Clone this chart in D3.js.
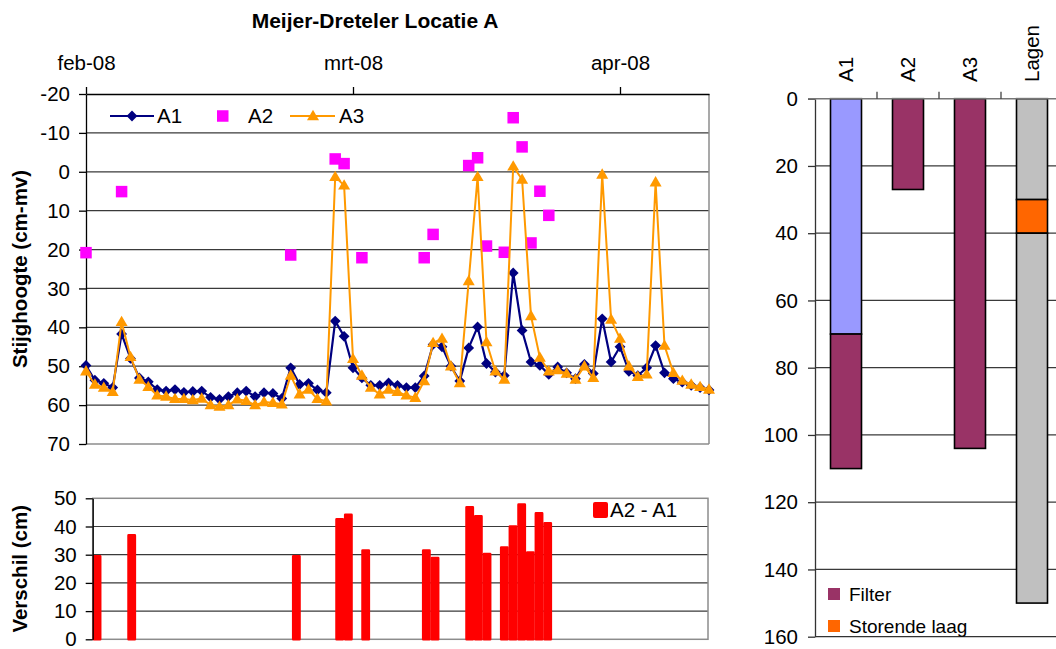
<!DOCTYPE html>
<html><head><meta charset="utf-8">
<script src="https://cdn.jsdelivr.net/npm/d3@7"></script>
<style>
body{margin:0;background:#fff}
svg text{font-family:"Liberation Sans",Arial,sans-serif;fill:#000}
</style>
</head><body>
<svg id="c" width="1056" height="649"></svg>
<script>
// ---------------- DATA ----------------
const dates = [
"2008-02-01","2008-02-02","2008-02-03","2008-02-04","2008-02-05","2008-02-06","2008-02-07","2008-02-08","2008-02-09","2008-02-10",
"2008-02-11","2008-02-12","2008-02-13","2008-02-14","2008-02-15","2008-02-16","2008-02-17","2008-02-18","2008-02-19","2008-02-20",
"2008-02-21","2008-02-22","2008-02-23","2008-02-24","2008-02-25","2008-02-26","2008-02-27","2008-02-28","2008-02-29","2008-03-01",
"2008-03-02","2008-03-03","2008-03-04","2008-03-05","2008-03-06","2008-03-07","2008-03-08","2008-03-09","2008-03-10","2008-03-11",
"2008-03-12","2008-03-13","2008-03-14","2008-03-15","2008-03-16","2008-03-17","2008-03-18","2008-03-19","2008-03-20","2008-03-21",
"2008-03-22","2008-03-23","2008-03-24","2008-03-25","2008-03-26","2008-03-27","2008-03-28","2008-03-29","2008-03-30","2008-03-31",
"2008-04-01","2008-04-02","2008-04-03","2008-04-04","2008-04-05","2008-04-06","2008-04-07","2008-04-08","2008-04-09","2008-04-10",
"2008-04-11"];
const A1 = [
49.8,53.6,54.4,55.5,41.7,48.0,53.0,54.0,56.0,56.4,
56.0,56.7,56.5,56.4,58.0,58.5,57.8,56.8,56.4,57.8,
56.8,57.0,58.3,50.4,54.7,54.4,56.1,56.8,38.4,42.3,
50.4,53.0,54.9,54.9,54.3,54.9,55.5,55.5,52.5,44.4,
45.0,50.0,53.8,45.3,39.9,49.3,51.5,52.4,26.0,40.8,
48.9,49.8,52.1,50.2,51.7,53.2,49.5,51.9,37.8,48.9,
45.0,51.3,52.4,50.4,44.7,51.7,53.2,54.1,54.9,55.5,
56.1];
const A2 = [
20.8,null,null,null,5.1,null,null,null,null,null,
null,null,null,null,null,null,null,null,null,null,
null,null,null,21.4,null,null,null,null,-3.3,-2.1,
null,22.1,null,null,null,null,null,null,22.1,16.1,
null,null,null,-1.6,-3.6,19.1,null,20.7,-13.9,-6.4,
18.3,5.0,11.2,null,null,null,null,null,null,null,
null,null,null,null,null,null,null,null,null,null,
null];
const A3 = [
51.3,54.7,55.5,56.6,38.6,47.6,53.4,55.3,57.5,57.8,
58.4,58.4,58.7,58.3,60.0,60.4,60.0,58.5,58.9,60.0,
59.2,59.4,59.8,52.4,57.2,56.0,58.4,59.0,1.3,3.5,
48.1,52.4,55.5,57.2,56.0,56.6,57.5,58.1,53.8,44.0,
42.9,50.0,54.3,28.1,1.3,43.8,51.3,53.4,-1.4,2.0,
37.1,47.8,51.3,51.0,51.9,53.4,50.0,53.0,0.7,38.0,
42.9,50.0,52.7,52.1,2.7,44.7,51.7,53.7,54.7,55.3,
56.0];
const diffA2A1 = [
29.8,null,null,null,37.2,null,null,null,null,null,
null,null,null,null,null,null,null,null,null,null,
null,null,null,29.8,null,null,null,null,42.9,44.5,
null,31.8,null,null,null,null,null,null,31.8,29.2,
null,null,null,47.2,44.0,30.6,null,32.9,40.3,48.1,
31.1,45.0,41.5,null,null,null,null,null,null,null,
null,null,null,null,null,null,null,null,null,null,
null];
const xTickDates = ["2008-02-01","2008-03-02","2008-04-01"];
const xTickLabels = ["feb-08","mrt-08","apr-08"];
const xDomain = ["2008-02-01","2008-04-11"];
const yTicksTop = [-20,-10,0,10,20,30,40,50,60,70];
const yTicksDiff = [0,10,20,30,40,50];
const seriesNames = ["A1","A2","A3"];

// right chart: filter / layer depths (cm-mv), stacked per category
const layerCats = ["A1","A2","A3","Lagen"];
const segTop    = [70, 0, 0, 30];    // blind pipe (A1) / top soil (Lagen)
const segFilter = [40, 27, 104, 0];  // Filter
const segStor   = [0, 0, 0, 10];     // Storende laag
const segBottom = [0, 0, 0, 110];    // deeper soil (Lagen)
const yTicksLayers = [0,20,40,60,80,100,120,140,160];
const layerLegend = ["Filter","Storende laag"];

// ---------------- DRAW ----------------
const svg = d3.select("#c");
const parse = d3.timeParse("%Y-%m-%d");
const FS = 20.5;
const gridCol = "#3a3a3a", borderCol = "#8c8c8c";

// ===== top chart =====
const T = {l:86, r:709, t:94, b:444};
const x = d3.scaleTime().domain(xDomain.map(parse)).range([T.l, T.r]);
const y = d3.scaleLinear().domain([-20,70]).range([T.t, T.b]);

svg.append("text").attr("x",375).attr("y",28).attr("text-anchor","middle")
  .style("font-weight","bold").style("font-size","21px").text("Meijer-Dreteler Locatie A");

// grid
svg.append("g").selectAll("line").data(yTicksTop.slice(1,-1)).join("line")
  .attr("x1",T.l).attr("x2",T.r).attr("y1",d=>y(d)).attr("y2",d=>y(d))
  .attr("stroke",gridCol).attr("stroke-width",1.2);
// borders
svg.append("line").attr("x1",T.l).attr("x2",T.r).attr("y1",T.b).attr("y2",T.b).attr("stroke",borderCol).attr("stroke-width",1.5);
svg.append("line").attr("x1",T.r).attr("x2",T.r).attr("y1",T.t).attr("y2",T.b).attr("stroke",borderCol).attr("stroke-width",1.5);

const gx = svg.append("g").attr("transform",`translate(0,${T.t})`)
  .call(d3.axisTop(x).tickValues(xTickDates.map(parse)).tickFormat((d,i)=>xTickLabels[i]).tickSize(7).tickSizeOuter(0).tickPadding(17));
const gy = svg.append("g").attr("transform",`translate(${T.l},0)`)
  .call(d3.axisLeft(y).tickValues(yTicksTop).tickFormat(d3.format("d")).tickSize(7).tickSizeOuter(0).tickPadding(9));
[gx,gy].forEach(g=>{
  g.selectAll("path,line").attr("stroke","#000").attr("stroke-width",1.3);
  g.selectAll("text").style("font-size",FS+"px").attr("font-family",null);
});
gy.selectAll("text").text(d=>d<0? "-"+Math.abs(d) : d);

svg.append("text").attr("transform",`translate(20,${(T.t+T.b)/2}) rotate(-90)`)
  .attr("dy","0.35em").attr("text-anchor","middle")
  .style("font-weight","bold").style("font-size",FS+"px").text("Stijghoogte (cm-mv)");

const diamond = "M0,-5.4L5.4,0L0,5.4L-5.4,0Z";
const tri = "M0,-6.2L6,4.2L-6,4.2Z";
const pts = (arr)=>arr.map((v,i)=>({d:parse(dates[i]),v})).filter(p=>p.v!=null);
const line = d3.line().x(p=>x(p.d)).y(p=>y(p.v));

// A1
svg.append("path").datum(pts(A1)).attr("d",line).attr("fill","none").attr("stroke","#000080").attr("stroke-width",2.2);
svg.append("g").selectAll("path").data(pts(A1)).join("path")
  .attr("transform",p=>`translate(${x(p.d)},${y(p.v)})`).attr("d",diamond).attr("fill","#000080");
// A2
svg.append("g").selectAll("rect").data(pts(A2)).join("rect")
  .attr("x",p=>x(p.d)-5.75).attr("y",p=>y(p.v)-5.75).attr("width",11.5).attr("height",11.5).attr("fill","#FF00FF");
// A3
svg.append("path").datum(pts(A3)).attr("d",line).attr("fill","none").attr("stroke","#FF9900").attr("stroke-width",2);
svg.append("g").selectAll("path").data(pts(A3)).join("path")
  .attr("transform",p=>`translate(${x(p.d)},${y(p.v)})`).attr("d",tri).attr("fill","#FF9900");

// legend top
const lg = svg.append("g");
const ly = 116;
lg.append("line").attr("x1",110).attr("x2",154).attr("y1",ly).attr("y2",ly).attr("stroke","#000080").attr("stroke-width",2.2);
lg.append("path").attr("transform",`translate(132,${ly})`).attr("d",diamond).attr("fill","#000080");
lg.append("rect").attr("x",217).attr("y",ly-5.75).attr("width",11.5).attr("height",11.5).attr("fill","#FF00FF");
lg.append("line").attr("x1",290).attr("x2",335).attr("y1",ly).attr("y2",ly).attr("stroke","#FF9900").attr("stroke-width",2);
lg.append("path").attr("transform",`translate(313,${ly})`).attr("d",tri).attr("fill","#FF9900");
[[157,seriesNames[0]],[248,seriesNames[1]],[339,seriesNames[2]]].forEach(([lx,t])=>{
  lg.append("text").attr("x",lx).attr("y",ly).attr("dy","0.36em").style("font-size",FS+"px").text(t);
});

// ===== bottom chart =====
const B = {l:92.7, r:708, t:498.3, b:639.3};
const xb = d3.scaleBand().domain(dates).range([B.l,B.r]).padding(0);
const yb = d3.scaleLinear().domain([0,50]).range([B.b,B.t]);
svg.append("g").selectAll("line").data(yTicksDiff.slice(1,-1)).join("line")
  .attr("x1",B.l).attr("x2",B.r).attr("y1",d=>yb(d)).attr("y2",d=>yb(d)).attr("stroke",gridCol).attr("stroke-width",1.2);
svg.append("rect").attr("x",B.l).attr("y",B.t).attr("width",B.r-B.l).attr("height",B.b-B.t)
  .attr("fill","none").attr("stroke",borderCol).attr("stroke-width",1.5);
const bw = xb.bandwidth();
svg.append("g").selectAll("rect").data(diffA2A1.map((v,i)=>({k:dates[i],v})).filter(p=>p.v!=null)).join("rect")
  .attr("x",p=>xb(p.k)+1.2).attr("width",bw-2.4)
  .attr("y",p=>yb(p.v)+1).attr("height",p=>yb(0)-yb(p.v)-1)
  .attr("fill","#FF0000").attr("stroke","#FF0000").attr("stroke-width",2.6).attr("stroke-linejoin","round");
const gyb = svg.append("g").attr("transform",`translate(${B.l},0)`)
  .call(d3.axisLeft(yb).tickValues(yTicksDiff).tickSize(7).tickSizeOuter(0).tickPadding(9));
gyb.selectAll("path,line").attr("stroke","#000").attr("stroke-width",1.3);
gyb.selectAll("text").style("font-size",FS+"px").attr("font-family",null);
svg.append("text").attr("transform",`translate(20,${(B.t+B.b)/2}) rotate(-90)`)
  .attr("dy","0.35em").attr("text-anchor","middle")
  .style("font-weight","bold").style("font-size",FS+"px").text("Verschil (cm)");
svg.append("rect").attr("x",593).attr("y",502).attr("width",15).attr("height",16).attr("rx",2).attr("fill","#FF0000");
svg.append("text").attr("x",610).attr("y",510).attr("dy","0.36em").style("font-size",FS+"px").text("A2 - A1");

// ===== right chart =====
const R = {l:815, t:98.7, b:636.7};
const xr = d3.scaleBand().domain(layerCats).range([R.l, R.l+4*62]).paddingInner(0.5).paddingOuter(0.25);
const yr = d3.scaleLinear().domain([0,160]).range([R.t,R.b]);
svg.append("defs").append("clipPath").attr("id","rclip").append("rect")
  .attr("x",R.l).attr("y",R.t).attr("width",1056-R.l).attr("height",R.b-R.t);
svg.append("g").selectAll("line").data(yTicksLayers.slice(1,-1)).join("line")
  .attr("x1",R.l).attr("x2",1056).attr("y1",d=>yr(d)).attr("y2",d=>yr(d)).attr("stroke",gridCol).attr("stroke-width",1.2);

const stackRows = layerCats.map((c,i)=>({cat:c, top:segTop[i], filter:segFilter[i], stor:segStor[i], bottom:segBottom[i]}));
const stacked = d3.stack().keys(["top","filter","stor","bottom"])(stackRows);
const segColor = (key,cat)=> key==="top" ? (cat==="A1" ? "#9999FF" : "#C0C0C0")
  : key==="filter" ? "#993366" : key==="stor" ? "#FF6600" : "#C0C0C0";
stacked.forEach(s=>{
  svg.append("g").selectAll("rect").data(s.filter(d=>d[1]>d[0])).join("rect")
    .attr("x",d=>xr(d.data.cat)).attr("width",xr.bandwidth())
    .attr("y",d=>yr(d[0])).attr("height",d=>yr(d[1])-yr(d[0]))
    .attr("fill",d=>segColor(s.key,d.data.cat)).attr("stroke","#000").attr("stroke-width",1.6);
});

const gyr = svg.append("g").attr("transform",`translate(${R.l},0)`)
  .call(d3.axisLeft(yr).tickValues(yTicksLayers).tickSize(7).tickSizeOuter(0).tickPadding(10));
gyr.selectAll("path,line").attr("stroke","#333").attr("stroke-width",1.3);
gyr.selectAll("text").style("font-size",FS+"px").attr("font-family",null);
svg.append("line").attr("x1",R.l).attr("x2",1056).attr("y1",R.b).attr("y2",R.b).attr("stroke","#333").attr("stroke-width",1.3);

// top category axis with tick marks between categories
const gxr = svg.append("g");
gxr.append("line").attr("x1",R.l-7).attr("x2",1056).attr("y1",R.t).attr("y2",R.t).attr("stroke","#777").attr("stroke-width",1.5);
gxr.selectAll("line.t").data(layerCats.slice(1)).join("line").attr("class","t")
  .attr("x1",d=>xr(d)-xr.step()*0.25).attr("x2",d=>xr(d)-xr.step()*0.25)
  .attr("y1",R.t-7).attr("y2",R.t).attr("stroke","#333").attr("stroke-width",1.2);
gxr.selectAll("text").data(layerCats).join("text")
  .attr("transform",d=>`translate(${xr(d)+xr.bandwidth()/2},82) rotate(-90)`)
  .attr("dy","0.36em").style("font-size",FS+"px").text(d=>d);

// legend right (clipped at plot bottom)
const rl = svg.append("g").attr("clip-path","url(#rclip)");
[["#993366",layerLegend[0],588],["#FF6600",layerLegend[1],620]].forEach(([c,t,yy])=>{
  rl.append("rect").attr("x",828).attr("y",yy).attr("width",12).attr("height",12).attr("fill",c);
  rl.append("text").attr("x",849).attr("y",yy+6).attr("dy","0.36em").style("font-size","19px").text(t);
});
</script>
</body></html>
